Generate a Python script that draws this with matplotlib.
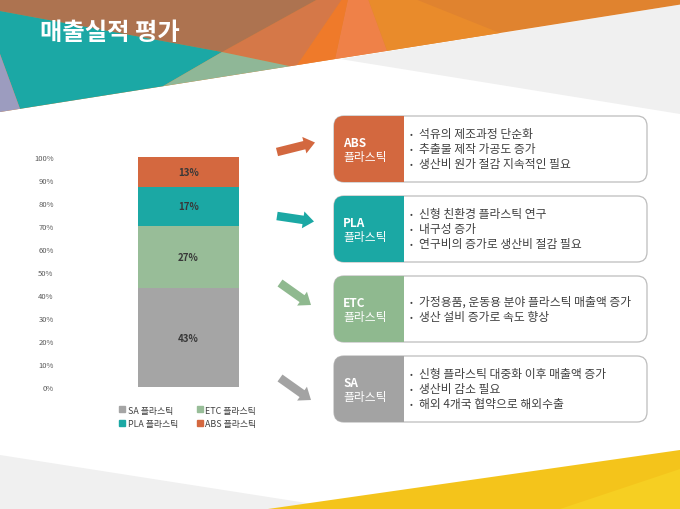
import matplotlib
matplotlib.use("Agg")
import matplotlib.pyplot as plt
from matplotlib.patches import Polygon, FancyBboxPatch, Rectangle, FancyArrow
from matplotlib.lines import Line2D

plt.rcParams['font.family'] = ['Noto Sans CJK KR', 'DejaVu Sans']

# ---- data ----
title = "매출실적 평가"
categories = ["SA 플라스틱", "ETC 플라스틱", "PLA 플라스틱", "ABS 플라스틱"]
values = [43, 27, 17, 13]
bar_colors = ["#a5a5a5", "#98bd98", "#1ba8a4", "#d4683f"]
ytick_values = [0, 10, 20, 30, 40, 50, 60, 70, 80, 90, 100]
ytick_labels = [f"{v}%" for v in ytick_values]

box_titles = ["ABS", "PLA", "ETC", "SA"]
box_subtitle = "플라스틱"
box_colors = ["#d3683f", "#1ba8a4", "#8fb98f", "#a3a3a3"]
box_bullets = [
    ["석유의 제조과정 단순화", "추출물 제작 가공도 증가", "생산비 원가 절감 지속적인 필요"],
    ["신형 친환경 플라스틱 연구", "내구성 증가", "연구비의 증가로 생산비 절감 필요"],
    ["가정용품, 운동용 분야 플라스틱 매출액 증가", "생산 설비 증가로 속도 향상"],
    ["신형 플라스틱 대중화 이후 매출액 증가", "생산비 감소 필요", "해외 4개국 협약으로 해외수출"],
]

W, H = 680, 510
fig = plt.figure(figsize=(W / 100, H / 100), dpi=100)
fig.patch.set_facecolor("white")

bg = fig.add_axes([0, 0, 1, 1], zorder=0)
bg.set_xlim(0, W)
bg.set_ylim(H, 0)
bg.axis("off")

def poly(pts, color, z=1):
    bg.add_patch(Polygon(pts, closed=True, facecolor=color, edgecolor="none", zorder=z))

# ---- top decoration ----
poly([(340, 60), (680, 5.6), (680, 115)], "#f0f0f0", 1)
poly([(0, 0), (680, 0), (680, 5.6), (0, 113)], "#e0832f", 1)
poly([(368, 0), (415, 0), (500, 34), (387, 51.9)], "#e98b2b", 2)
poly([(348, 0), (368, 0), (387, 51.9), (335, 60)], "#ef8148", 2)
poly([(342, 0), (348, 0), (335, 60), (297, 66.1)], "#ef7a2a", 2)
poly([(318, 0), (342, 0), (297, 66.1), (290, 67.2), (222, 53)], "#d57848", 2)
poly([(0, 0), (318, 0), (222, 53), (0, 12)], "#ad7350", 2)
poly([(0, 12), (222, 53), (163, 87.2), (20, 109.8), (0, 55)], "#1ba8a5", 2)
poly([(222, 53), (290, 67.2), (163, 87.2)], "#8fb797", 2)
poly([(0, 55), (20, 109.8), (0, 113)], "#9c9cbf", 2)

# ---- bottom decoration ----
poly([(0, 456), (345, 510), (0, 510)], "#f0f0f0", 1)
poly([(268, 510), (680, 451), (680, 510)], "#f4c41b", 2)
poly([(560, 510), (680, 470), (680, 510)], "#f6cf22", 3)

bg.text(40, 33, title, color="white", fontsize=17.5, fontweight="bold",
        va="center", ha="left", zorder=5)

# ---- arrows ----
arrows = [((277, 153), (315, 143.5)),
          ((277, 217), (314, 222.5)),
          ((280, 284), (311, 306)),
          ((280, 379), (311, 401))]
for (p0, p1), c in zip(arrows, box_colors):
    bg.add_patch(FancyArrow(p0[0], p0[1], p1[0] - p0[0], p1[1] - p0[1], width=8.5,
                            head_width=17, head_length=11, length_includes_head=True,
                            facecolor=c, edgecolor="none", zorder=4))

# ---- boxes ----
box_tops = [117, 197, 277, 357]
bx0, bx1, split, bh = 334, 647, 404, 66
for top, t, c, lines in zip(box_tops, box_titles, box_colors, box_bullets):
    bg.add_patch(FancyBboxPatch((bx0, top), bx1 - bx0, bh,
                                boxstyle="round,pad=0,rounding_size=10",
                                facecolor="white", edgecolor="#bdbdbd", lw=0.9, zorder=4))
    bg.add_patch(FancyBboxPatch((bx0, top), split - bx0, bh,
                                boxstyle="round,pad=0,rounding_size=10",
                                facecolor=c, edgecolor="none", zorder=5))
    bg.add_patch(Rectangle((split - 15, top), 15, bh, facecolor=c,
                           edgecolor="none", zorder=5))
    cy = top + bh / 2
    bg.text(343, cy - 6.5, t, color="white", fontsize=8.5, fontweight="bold",
            va="center", ha="left", zorder=6)
    bg.text(343, cy + 8, box_subtitle, color="white", fontsize=8.5,
            va="center", ha="left", zorder=6)
    n = len(lines)
    for i, ln in enumerate(lines):
        yy = cy + (i - (n - 1) / 2) * 15
        bg.text(410, yy, "•", color="#404040", fontsize=6, va="center", ha="left", zorder=6)
        bg.text(419, yy, ln, color="#404040", fontsize=8.5, va="center", ha="left", zorder=6)

# ---- chart ----
ax = fig.add_axes([62 / W, (H - 388) / H, 253 / W, 230 / H], zorder=2)
ax.patch.set_alpha(0)
bottom = 0
for cat, v, c in zip(categories, values, bar_colors):
    ax.bar(0, v, width=0.599, bottom=bottom, color=c, label=cat)
    ax.text(0, bottom + v / 2, f"{v}%", ha="center", va="center",
            fontsize=7, fontweight="bold", color="#383838")
    bottom += v
ax.set_xlim(-0.75, 0.75)
ax.set_ylim(0, 100)
ax.set_yticks(ytick_values)
ax.set_yticklabels(ytick_labels)
ax.set_xticks([])
ax.tick_params(axis="y", length=0, pad=6, labelsize=5.5, labelcolor="#595959")
for s in ax.spines.values():
    s.set_visible(False)

order = [0, 2, 1, 3]
handles = [Line2D([], [], marker="s", ls="", color=bar_colors[i], markersize=3.8) for i in order]
labels = [categories[i] for i in order]
fig.legend(handles, labels, loc="center", bbox_to_anchor=(188 / W, 1 - 418 / H), ncol=2,
           frameon=False, fontsize=6.4, handlelength=0.6, handletextpad=0.3,
           columnspacing=2.2, labelspacing=0.55, labelcolor="#404040")

fig.savefig("out.png", dpi=100)
